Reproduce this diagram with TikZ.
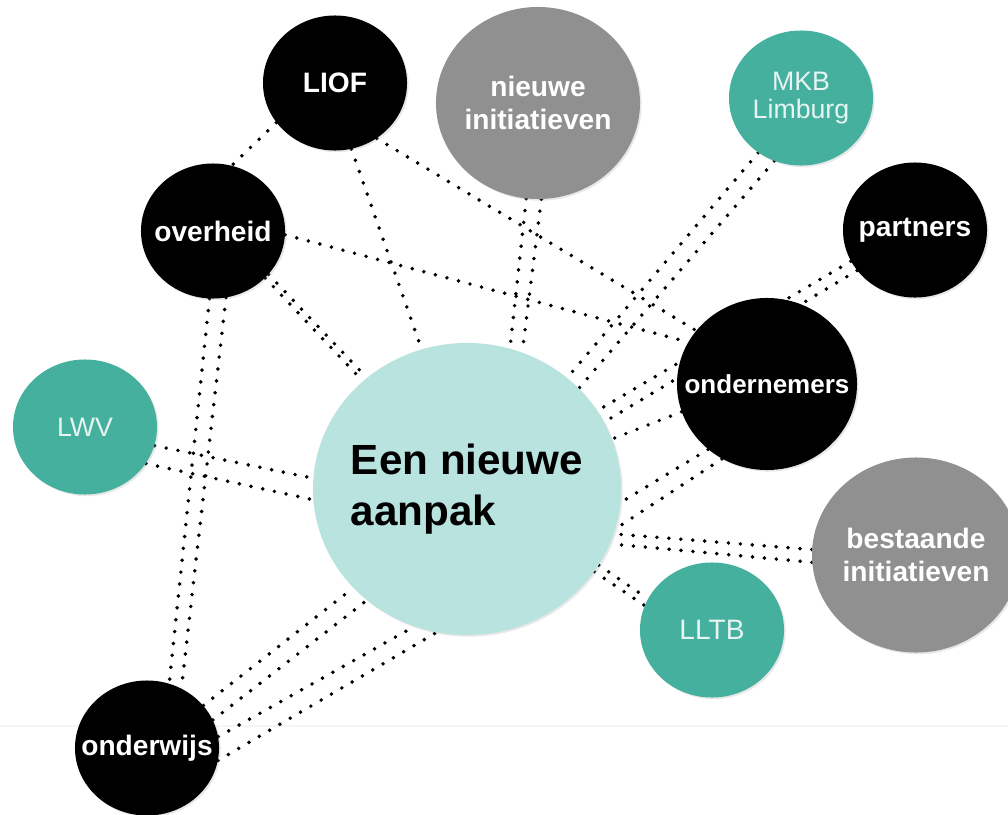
\documentclass[tikz,border=0pt]{standalone}
\usepackage{fontspec}
\setmainfont{Liberation Sans}
\usepackage{tikz}
\usetikzlibrary{shapes,backgrounds,shadows}

\definecolor{tealbg}{HTML}{45B09E}
\definecolor{lightbg}{HTML}{B8E3DF}
\definecolor{graybg}{HTML}{909090}
\definecolor{minttxt}{HTML}{E6F5F2}

\begin{document}
\begin{tikzpicture}[x=0.025cm, y=-0.025cm,
    bub/.style={ellipse, inner sep=0pt, minimum width=3.6cm, minimum height=3.375cm,
        drop shadow={shadow xshift=1.2pt, shadow yshift=-1.2pt, opacity=0.18}},
    txt/.style={text=white, align=center, font=\bfseries\fontsize{20}{23.5}\selectfont},
    tealtxt/.style={text=minttxt, align=center, font=\fontsize{19}{20}\selectfont},
    blackbub/.style={bub, fill=black, label={[txt]center:#1}},
    graybub/.style={bub, fill=graybg, label={[txt]center:#1}},
    tealbub/.style={bub, fill=tealbg, label={[tealtxt]center:#1}},
    dotline/.style={line width=2.8pt, line cap=round, dash pattern=on 0pt off 8.5pt}]

    \useasboundingbox (0,0) rectangle (1008,815);

    % centre
    \node [bub, fill=lightbg, minimum width=7.7cm, minimum height=7.3cm,
        label={[align=left, font=\bfseries\fontsize{30}{36}\selectfont]center:Een nieuwe\\aanpak}] (ap) at (467, 489) {};

    % partners around it
    \node [blackbub=LIOF] (li) at (335, 83) {};
    \node [graybub={nieuwe\\initiatieven}, minimum width=5.1cm, minimum height=4.8cm] (ni) at (538, 103) {};
    \node [tealbub={MKB\\Limburg}] (mk) at (801, 98) {};
    \node [blackbub=overheid] (ov) at (213, 231) {};
    \node [blackbub=partners] (pa) at (915, 230) {};
    \node [bub, fill=black, minimum width=4.5cm, minimum height=4.3cm,
        label={[txt, font=\bfseries\fontsize{18.5}{22}\selectfont]center:ondernemers}] (on) at (767, 384) {};
    \node [tealbub=LWV] (lw) at (85, 427) {};
    \node [graybub={bestaande\\initiatieven}, minimum width=5.2cm, minimum height=4.875cm] (be) at (916, 555) {};
    \node [bub, fill=tealbg, label={[tealtxt, font=\fontsize{20}{22}\selectfont]center:LLTB}] (ll) at (712, 630) {};
    \node [blackbub=onderwijs] (ow) at (147, 748) {};

    \begin{scope}[on background layer]
        \draw [black!4, line width=1pt] (0,726) -- (1008,726);

        \draw [dotline] (li.214) -- (ov.74);
        \draw [dotline] (li.-76) -- (ap.108);
        \draw [dotline] (li.-53) -- (on.143);
        \draw [dotline] (ov.-3) -- (on.152);
        \draw [dotline] (ov.-42) -- (ap.134);
        \draw [dotline] (ov.-38) -- (ap.132);
        \draw [dotline] (ov.-93) -- (ow.71);
        \draw [dotline] (ov.-79) -- (ow.60);
        \draw [dotline] (lw.-15) -- (ap.176);
        \draw [dotline] (lw.-31) -- (ap.184);
        \draw [dotline] (ow.37) -- (ap.221);
        \draw [dotline] (ow.23) -- (ap.228);
        \draw [dotline] (ow.9) -- (ap.249);
        \draw [dotline] (ow.-10) -- (ap.258);
        \draw [dotline] (ni.263) -- (ap.73);
        \draw [dotline] (ni.272) -- (ap.68);
        \draw [dotline] (mk.232) -- (ap.48);
        \draw [dotline] (mk.247) -- (ap.42);
        \draw [dotline] (pa.206) -- (ap.31);
        \draw [dotline] (pa.215) -- (ap.26);
        \draw [dotline] (on.198) -- (ap.19);
        \draw [dotline] (on.228) -- (ap.-5);
        \draw [dotline] (on.239) -- (ap.-15);
        \draw [dotline] (be.177) -- (ap.-17);
        \draw [dotline] (be.184) -- (ap.-21);
        \draw [dotline] (ap.-30) -- (ll.154);
        \draw [dotline] (ap.-33) -- (ll.160);
    \end{scope}
\end{tikzpicture}
\end{document}
